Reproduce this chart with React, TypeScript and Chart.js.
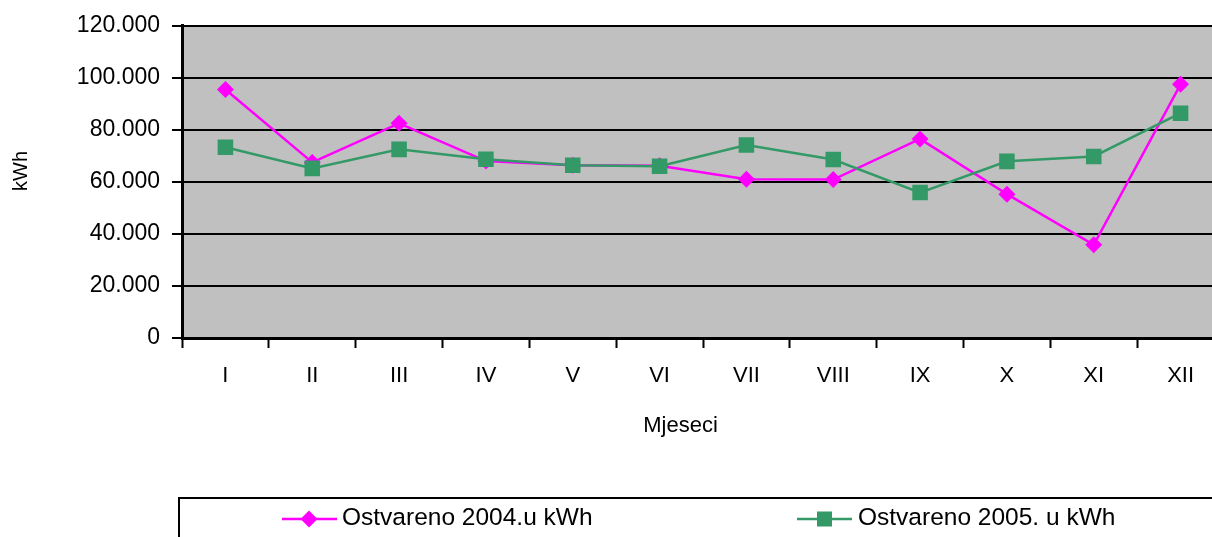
import React, { useEffect, useRef } from 'react';
import { Chart, registerables } from 'chart.js';

Chart.register(...registerables);

const months = ['I', 'II', 'III', 'IV', 'V', 'VI', 'VII', 'VIII', 'IX', 'X', 'XI', 'XII'];
const ostvareno2004 = [95500, 67500, 82500, 68000, 66400, 66200, 61000, 60900, 76500, 55300, 35800, 97500];
const ostvareno2005 = [73300, 65200, 72500, 68700, 66400, 66000, 74200, 68600, 55900, 67900, 69800, 86400];
const seriesNames = ['Ostvareno 2004.u kWh', 'Ostvareno 2005. u kWh'];
const yMin = 0;
const yMax = 120000;
const yStep = 20000;
const xTitle = 'Mjeseci';
const yTitle = 'kWh';

const PINK = '#FF00FF';
const GREEN = '#339966';
const FONT = "'Liberation Sans', Arial, sans-serif";
const CW = 1240;
const CH = 537;

function fmt(v: number): string {
  if (v === 0) return '0';
  const s = String(Math.round(v));
  return s.replace(/\B(?=(\d{3})+(?!\d))/g, '.');
}

const decorPlugin = {
  id: 'decor',
  beforeDraw(chart: any) {
    const { ctx, chartArea } = chart;
    ctx.save();
    ctx.fillStyle = '#C0C0C0';
    ctx.fillRect(chartArea.left, chartArea.top, chartArea.right - chartArea.left, chartArea.bottom - chartArea.top);
    ctx.restore();
  },
  afterDraw(chart: any) {
    const { ctx } = chart;
    // y axis title
    ctx.save();
    ctx.translate(21, 171);
    ctx.rotate(-Math.PI / 2);
    ctx.fillStyle = '#000';
    ctx.font = `20px ${FONT}`;
    ctx.textAlign = 'center';
    ctx.textBaseline = 'middle';
    ctx.fillText(yTitle, 0, 0);
    ctx.restore();

    // x axis title
    ctx.save();
    ctx.fillStyle = '#000';
    ctx.font = `22px ${FONT}`;
    ctx.textAlign = 'center';
    ctx.textBaseline = 'middle';
    ctx.fillText(xTitle, 680.5, 426);
    ctx.restore();

    // legend box
    ctx.save();
    ctx.strokeStyle = '#000';
    ctx.lineWidth = 2;
    ctx.strokeRect(179, 498, CW, 100);
    const ly = 519;
    // pink item
    ctx.strokeStyle = PINK;
    ctx.lineWidth = 2.5;
    ctx.beginPath();
    ctx.moveTo(282, ly);
    ctx.lineTo(337, ly);
    ctx.stroke();
    ctx.fillStyle = PINK;
    ctx.beginPath();
    ctx.moveTo(309, ly - 8.5);
    ctx.lineTo(317.5, ly);
    ctx.lineTo(309, ly + 8.5);
    ctx.lineTo(300.5, ly);
    ctx.closePath();
    ctx.fill();
    // green item
    ctx.strokeStyle = GREEN;
    ctx.beginPath();
    ctx.moveTo(797, ly);
    ctx.lineTo(852, ly);
    ctx.stroke();
    ctx.fillStyle = GREEN;
    ctx.fillRect(817, ly - 7.5, 15, 15);
    // texts
    ctx.fillStyle = '#000';
    ctx.font = `24.5px ${FONT}`;
    ctx.textAlign = 'left';
    ctx.textBaseline = 'middle';
    ctx.fillText(seriesNames[0], 342, 518);
    ctx.fillText(seriesNames[1], 858, 518);
    ctx.restore();
  },
};

export default function App() {
  const ref = useRef<HTMLCanvasElement>(null);

  useEffect(() => {
    if (!ref.current) return;
    const chart = new Chart(ref.current, {
      type: 'line',
      data: {
        labels: months,
        datasets: [
          {
            label: seriesNames[0],
            data: ostvareno2004,
            borderColor: PINK,
            backgroundColor: PINK,
            borderWidth: 2.5,
            pointStyle: 'rectRot',
            pointRadius: 8.5,
            pointBorderWidth: 0,
            pointBackgroundColor: PINK,
            tension: 0,
            order: 1,
          },
          {
            label: seriesNames[1],
            data: ostvareno2005,
            borderColor: GREEN,
            backgroundColor: GREEN,
            borderWidth: 2.5,
            pointStyle: 'rect',
            pointRadius: 11,
            pointBorderWidth: 0,
            pointBackgroundColor: GREEN,
            tension: 0,
            order: 0,
          },
        ],
      },
      options: {
        responsive: false,
        animation: false,
        devicePixelRatio: 1,
        layout: { padding: { top: 24, left: 0, right: CW - 1224, bottom: 98 } },
        plugins: {
          legend: { display: false },
          tooltip: { enabled: false },
        },
        scales: {
          x: {
            type: 'category',
            offset: true,
            afterFit: (s: any) => {
              s.height = 101;
            },
            grid: {
              offset: true,
              drawOnChartArea: false,
              drawTicks: true,
              tickLength: 10,
              tickColor: '#000',
              tickWidth: 2,
            },
            border: { display: true, color: '#000', width: 3 },
            ticks: {
              color: '#000',
              font: { family: FONT, size: 22 },
              padding: 15,
              maxRotation: 0,
              autoSkip: false,
            },
            title: { display: false, text: xTitle },
          },
          y: {
            min: yMin,
            max: yMax,
            afterFit: (s: any) => {
              s.width = 182;
            },
            grid: {
              color: '#000',
              lineWidth: 2,
              drawTicks: true,
              tickLength: 10,
              tickColor: '#000',
              tickWidth: 2,
            },
            border: { display: true, color: '#000', width: 3 },
            ticks: {
              stepSize: yStep,
              color: '#000',
              font: { family: FONT, size: 23 },
              padding: 12,
              callback: (v: any) => fmt(Number(v)),
            },
            title: { display: false, text: yTitle },
          },
        },
      },
      plugins: [decorPlugin],
    });
    return () => chart.destroy();
  }, []);

  return (
    <div style={{ position: 'fixed', left: 0, top: 0, width: 1212, height: 537, overflow: 'hidden', background: '#fff' }}>
      <canvas ref={ref} width={CW} height={CH} style={{ width: CW, height: CH, display: 'block' }} />
    </div>
  );
}
